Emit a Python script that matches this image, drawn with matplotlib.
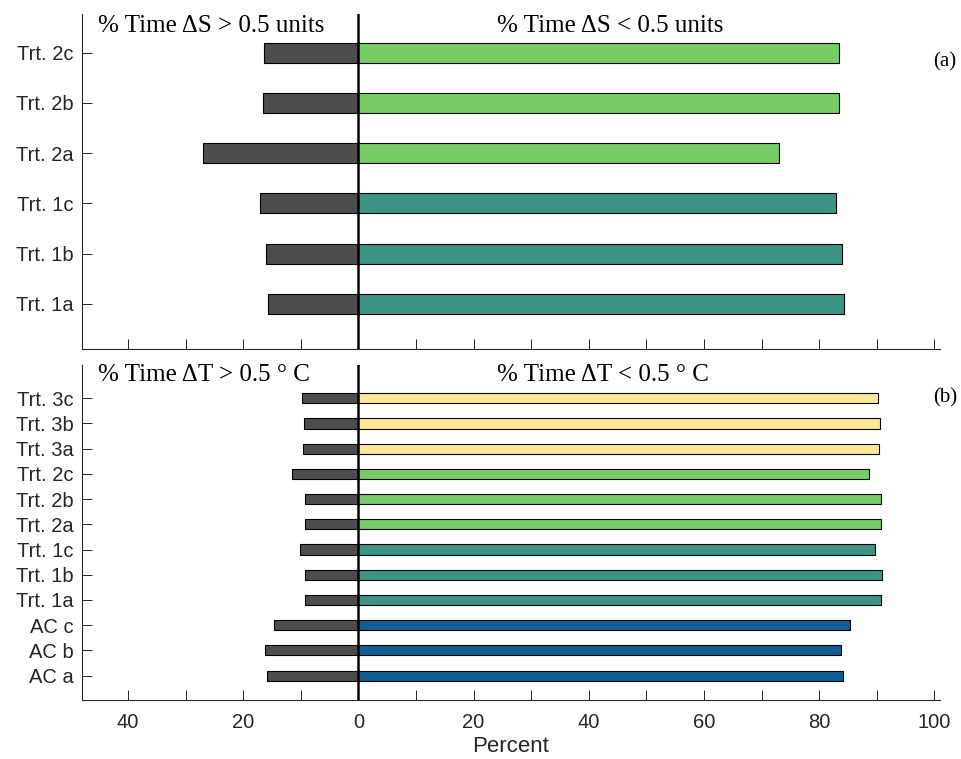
import matplotlib
matplotlib.use('Agg')
import matplotlib.pyplot as plt

# panel (a) - salinity
labels_a = ['Trt. 1a', 'Trt. 1b', 'Trt. 1c', 'Trt. 2a', 'Trt. 2b', 'Trt. 2c']
over_a = [15.7, 16.0, 17.1, 27.0, 16.6, 16.4]
under_a = [84.3, 84.0, 83.0, 73.1, 83.4, 83.5]
colors_a = ['#3b9484', '#3b9484', '#3b9484', '#77cc66', '#77cc66', '#77cc66']

# panel (b) - temperature
labels_b = ['AC a', 'AC b', 'AC c', 'Trt. 1a', 'Trt. 1b', 'Trt. 1c',
            'Trt. 2a', 'Trt. 2b', 'Trt. 2c', 'Trt. 3a', 'Trt. 3b', 'Trt. 3c']
over_b = [15.8, 16.2, 14.6, 9.3, 9.2, 10.2, 9.3, 9.3, 11.5, 9.7, 9.5, 9.8]
under_b = [84.2, 83.8, 85.4, 90.7, 90.9, 89.7, 90.7, 90.7, 88.6, 90.4, 90.6, 90.2]
colors_b = ['#115e93'] * 3 + ['#3b9484'] * 3 + ['#77cc66'] * 3 + ['#fde999'] * 3

gray = '#4d4d4d'
axcol = '#262626'
serif = ['Liberation Serif', 'DejaVu Serif']
sans = ['Liberation Sans', 'DejaVu Sans']

fig = plt.figure(figsize=(9.62, 7.59), dpi=100)
ax1 = fig.add_axes([0.0852, 0.5402, 0.892, 0.4414])
ax2 = fig.add_axes([0.0852, 0.0777, 0.892, 0.4414])

xticks = list(range(-40, 101, 10))


def style(ax, labels, ylim, show_x):
    pos = list(range(1, len(labels) + 1))
    ax.set_yticks(pos)
    ax.set_yticklabels(labels, family=sans, fontsize=14.5, color=axcol)
    ax.set_ylim(*ylim)
    ax.set_xlim(-48, 101)
    ax.set_xticks(xticks)
    if show_x:
        ax.set_xticklabels([str(abs(t)) if t % 20 == 0 else '' for t in xticks],
                           family=sans, fontsize=14.5, color=axcol)
    else:
        ax.set_xticklabels([])
    ax.tick_params(direction='in', length=7, width=0.7, color=axcol, pad=6)
    ax.tick_params(axis='x', pad=9)
    for s in ['top', 'right']:
        ax.spines[s].set_visible(False)
    for s in ['left', 'bottom']:
        ax.spines[s].set_color(axcol)
        ax.spines[s].set_linewidth(0.8)
    ax.axvline(0, color='black', lw=1.8, zorder=5)
    return pos


pos_a = style(ax1, labels_a, (0.1, 6.77), False)
ax1.barh(pos_a, [-v for v in over_a], height=0.4, color=gray, edgecolor='black', lw=0.8)
ax1.barh(pos_a, under_a, height=0.4, color=colors_a, edgecolor='black', lw=0.8)
ax1.text(-45.2, 6.53, '% Time ΔS > 0.5 units', family=serif, fontsize=18, va='center')
ax1.text(24.1, 6.53, '% Time ΔS < 0.5 units', family=serif, fontsize=18, va='center')
ax1.text(99.8, 5.81, '(a)', family=serif, fontsize=15, va='center')

pos_b = style(ax2, labels_b, (0.03, 13.32), True)
ax2.barh(pos_b, [-v for v in over_b], height=0.4, color=gray, edgecolor='black', lw=0.8)
ax2.barh(pos_b, under_b, height=0.4, color=colors_b, edgecolor='black', lw=0.8)
ax2.text(-45.2, 12.92, '% Time ΔT > 0.5 ° C', family=serif, fontsize=18, va='center')
ax2.text(24.1, 12.92, '% Time ΔT < 0.5 ° C', family=serif, fontsize=18, va='center')
ax2.text(99.8, 12.0, '(b)', family=serif, fontsize=15, va='center')
ax2.set_xlabel('Percent', family=sans, fontsize=16, color=axcol, labelpad=3)

fig.savefig('out.png', dpi=100)
